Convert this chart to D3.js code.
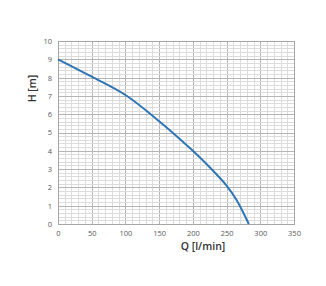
<!DOCTYPE html>
<html>
<head>
<meta charset="utf-8">
<script src="https://cdn.jsdelivr.net/npm/d3@7"></script>
<style>
  body { margin: 0; background: #fff; }
  text { font-family: "Open Sans", "DejaVu Sans", sans-serif; }
</style>
</head>
<body>
<div id="chart"></div>
<script>
// pump curve
var flow = [0, 50, 100, 150, 200, 225, 250, 265, 283];
var head = [9.0, 8.05, 7.05, 5.62, 4.0, 3.1, 2.1, 1.3, 0];
var xTicks = [0, 50, 100, 150, 200, 250, 300, 350];
var yTicks = [0, 1, 2, 3, 4, 5, 6, 7, 8, 9, 10];

var margin = {top: 41, right: 32, bottom: 62, left: 58};
var width = 326 - margin.left - margin.right, height = 286 - margin.top - margin.bottom;

var svg = d3.select('#chart')
    .append('svg')
    .attr('width', 326)
    .attr('height', 286)
    .append('g')
    .attr('transform', 'translate(' + margin.left + ',' + margin.top + ')');

var x = d3.scaleLinear().domain([0, 350]).range([0, width]);
var y = d3.scaleLinear().domain([0, 10]).range([height, 0]);

// minor grid
svg.append('g').selectAll('line')
    .data(d3.range(0, 351, 10))
    .enter().append('line')
    .attr('x1', function(d){ return Math.round(x(d)) + 0.5; })
    .attr('x2', function(d){ return Math.round(x(d)) + 0.5; })
    .attr('y1', 0).attr('y2', height)
    .attr('stroke', function(d){ return d % 50 == 0 ? '#b4b4b4' : '#dcdcdc'; });
svg.append('g').selectAll('line')
    .data(d3.range(0, 51).map(function(i){ return i / 5; }))
    .enter().append('line')
    .attr('y1', function(d){ return Math.round(y(d)) + 0.5; })
    .attr('y2', function(d){ return Math.round(y(d)) + 0.5; })
    .attr('x1', 0).attr('x2', width)
    .attr('stroke', function(d){ return Math.abs(d - Math.round(d)) < 1e-6 ? '#b4b4b4' : '#dcdcdc'; });

// border
svg.append('rect')
    .attr('x', 0.5).attr('y', 0.5)
    .attr('width', width).attr('height', height)
    .attr('fill', 'none').attr('stroke', '#a6a6a6');

// axes
svg.append('g')
    .attr('transform', 'translate(0,' + height + ')')
    .call(d3.axisBottom(x).tickValues(xTicks).tickSize(0).tickPadding(7))
    .call(function(g){ g.select('.domain').remove(); })
    .selectAll('text').attr('fill', '#595959').style('font-size', '7.5px');
svg.append('g')
    .call(d3.axisLeft(y).tickValues(yTicks).tickSize(0).tickPadding(6))
    .call(function(g){ g.select('.domain').remove(); })
    .selectAll('text').attr('fill', '#595959').style('font-size', '7.5px');

svg.append('text')
    .attr('x', 145).attr('y', height + 26)
    .attr('text-anchor', 'middle')
    .attr('fill', '#333')
    .style('font-size', '10.5px').style('font-weight', '600')
    .text('Q [l/min]');
svg.append('text')
    .attr('transform', 'translate(-22,' + (y(7.4)) + ') rotate(-90)')
    .attr('text-anchor', 'middle')
    .attr('fill', '#333')
    .style('font-size', '10.5px').style('font-weight', '600')
    .text('H [m]');

var pts = flow.map(function(q, i){ return [q, head[i]]; });
var line = d3.line()
    .x(function(d){ return x(d[0]); })
    .y(function(d){ return y(d[1]); })
    .curve(d3.curveCatmullRom.alpha(0.5));
svg.append('path')
    .datum(pts)
    .attr('d', line)
    .attr('fill', 'none')
    .attr('stroke', '#2e75b6')
    .attr('stroke-width', 2);
</script>
</body>
</html>
